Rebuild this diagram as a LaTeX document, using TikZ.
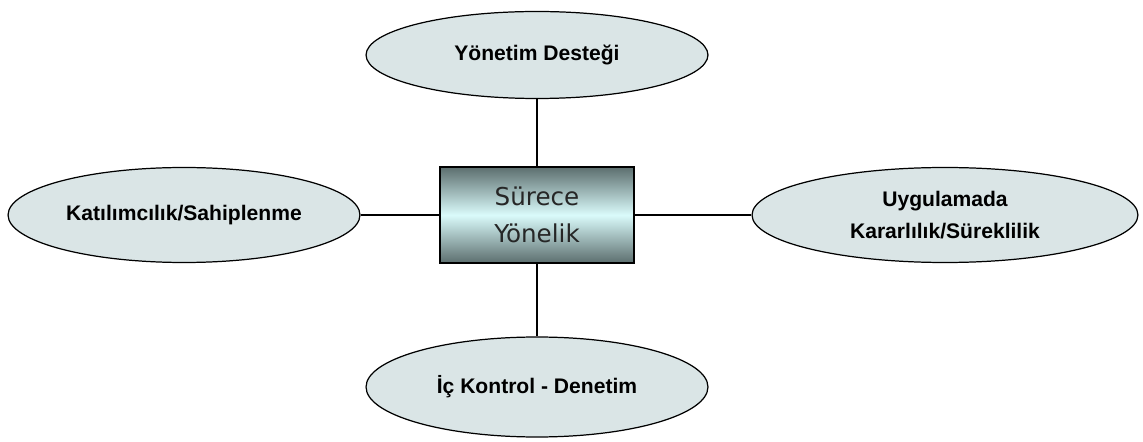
\documentclass[tikz,border=0pt]{standalone}
\usepackage{fontspec}
\setmainfont{Liberation Sans}
\newfontfamily\corefont{DejaVu Sans}
\usetikzlibrary{shapes.geometric}
\definecolor{bubblefill}{HTML}{DAE5E6}
\definecolor{coredark}{HTML}{5C6E6E}
\definecolor{corelight}{HTML}{DAFBFB}
\begin{document}
\begin{tikzpicture}[x=0.02cm, y=-0.02cm,
    bubble/.style={ellipse, draw=black, line width=0.7pt, fill=bubblefill, inner sep=0pt,
      align=center, font=\bfseries\fontsize{12}{18.5}\selectfont},
    link/.style={draw=black, line width=0.7pt}]
  \useasboundingbox (0,0) rectangle (1143,442);
  \node[rectangle, draw=black, line width=0.8pt, top color=coredark, bottom color=coredark,
    middle color=corelight, minimum width=3.88cm, minimum height=1.92cm, align=center,
    text=black!85, font=\corefont\fontsize{14}{21}\selectfont] (surec) at (537,215) {Sürece\\Yönelik};
  \node[bubble, minimum width=6.84cm, minimum height=1.74cm] (yonetim) at (537,55) {Yönetim Desteği};
  \node[bubble, minimum width=7.04cm, minimum height=1.9cm] (katilim) at (184,215) {Katılımcılık/Sahiplenme};
  \node[bubble, minimum width=7.72cm, minimum height=1.9cm] (karar) at (945,215) {Uygulamada\\Kararlılık/Süreklilik};
  \node[bubble, minimum width=6.84cm, minimum height=2cm] (denetim) at (537,387) {İç Kontrol - Denetim};
  \draw[link] (yonetim) -- (surec);
  \draw[link] (katilim) -- (surec);
  \draw[link] (surec) -- (karar);
  \draw[link] (surec) -- (denetim);
\end{tikzpicture}
\end{document}
